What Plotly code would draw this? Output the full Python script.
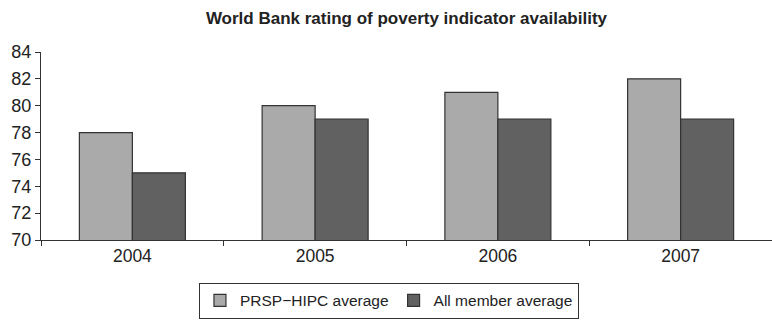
import plotly.graph_objects as go

years = ["2004", "2005", "2006", "2007"]
prsp_hipc = [78, 80, 81, 82]
all_member = [75, 79, 79, 79]
y_ticks = [70, 72, 74, 76, 78, 80, 82, 84]

FONT = "Liberation Sans, Arial, sans-serif"
TXT = "#222222"

fig = go.Figure()
fig.add_trace(go.Bar(x=years, y=prsp_hipc, name="PRSP\u2212HIPC average",
                     marker=dict(color="#aaaaaa", line=dict(color="#333333", width=1.2))))
fig.add_trace(go.Bar(x=years, y=all_member, name="All member average",
                     marker=dict(color="#616161", line=dict(color="#333333", width=1.2))))

fig.update_layout(
    width=772, height=323,
    margin=dict(l=41, r=0, t=52, b=83),
    paper_bgcolor="white", plot_bgcolor="white",
    font=dict(family=FONT, color=TXT, size=17),
    barmode="group", bargap=0.42, bargroupgap=0,
    title=dict(text="<b>World Bank rating of poverty indicator availability</b>",
               x=0.5265, xanchor="center", y=0.945, yanchor="middle",
               font=dict(size=17, family=FONT, color=TXT)),
    showlegend=True,
    legend=dict(orientation="h", x=0.476, xanchor="center", y=-0.228, yanchor="top",
                bordercolor="#333333", borderwidth=1, bgcolor="white",
                font=dict(size=15.5, family=FONT, color=TXT),
                traceorder="normal", itemwidth=30,
                tracegroupgap=0),
    xaxis=dict(type="category", showline=True, linecolor="#333333", linewidth=1,
               ticks="outside", tickson="boundaries", ticklen=5, tickcolor="#333333",
               showgrid=False, zeroline=False, tickfont=dict(size=17.5)),
    yaxis=dict(range=[70, 84], tickvals=y_ticks, showline=True, linecolor="#333333",
               linewidth=1, ticks="outside", ticklen=5, tickcolor="#333333",
               showgrid=False, zeroline=False, tickfont=dict(size=18)),
)

fig.write_html("out.html")
